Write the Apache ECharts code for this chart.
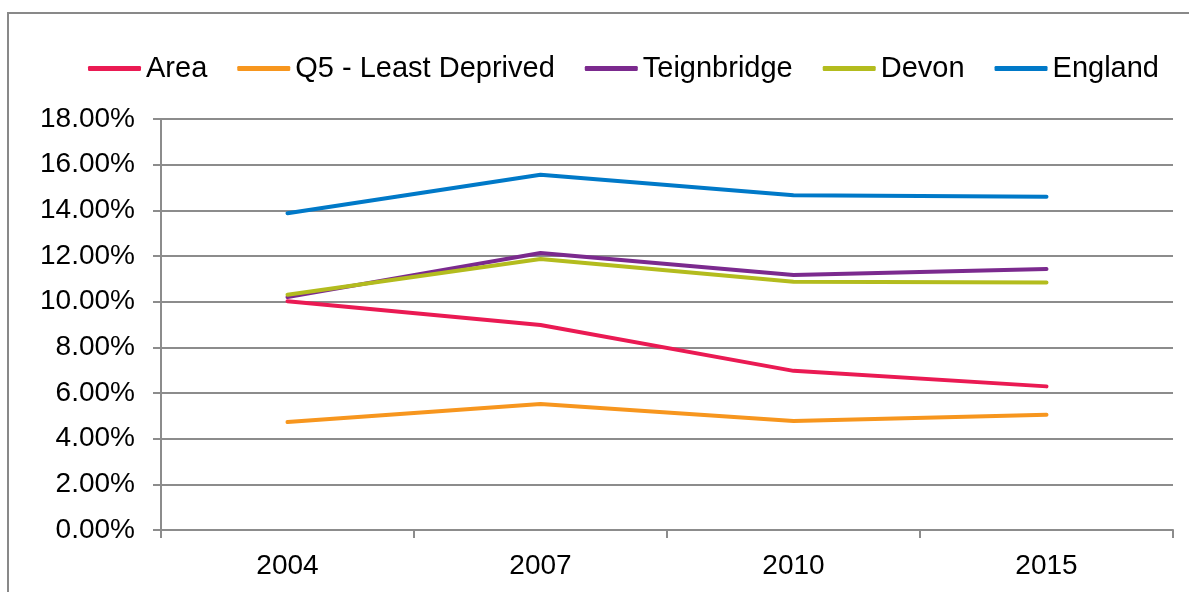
<!DOCTYPE html>
<html>
<head>
<meta charset="utf-8">
<script src="https://cdn.jsdelivr.net/npm/echarts@6/dist/echarts.min.js"></script>
<style>
  html, body { margin: 0; padding: 0; background: #fff; }
  #chart { width: 1189px; height: 592px; }
</style>
</head>
<body>
<div id="chart"></div>
<script>
const years = ['2004', '2007', '2010', '2015'];
const area = [10.02, 8.98, 6.97, 6.29];
const q5LeastDeprived = [4.73, 5.52, 4.77, 5.05];
const teignbridge = [10.2, 12.13, 11.17, 11.43];
const devon = [10.3, 11.87, 10.87, 10.84];
const england = [13.87, 15.56, 14.66, 14.59];

const colors = ['#EA1A53', '#F7961E', '#7B2A8E', '#B3BC1E', '#0079C8'];
const gridColor = '#8C8C8C';

const myChart = echarts.init(document.getElementById('chart'));

function lineSeries(name, data) {
  return {
    name: name,
    type: 'line',
    data: data,
    symbol: 'none',
    lineStyle: { width: 4, cap: 'round' },
    emphasis: { disabled: true }
  };
}

const option = {
  color: colors,
  animation: false,
  textStyle: { fontFamily: 'Liberation Sans, Arial, sans-serif' },
  graphic: [
    {
      type: 'rect',
      shape: { x: 8, y: 13, width: 1300, height: 700 },
      style: { fill: 'none', stroke: '#898989', lineWidth: 2 },
      silent: true
    }
  ],
  legend: {
    top: 49,
    left: 83,
    itemWidth: 53,
    itemHeight: 5,
    itemGap: 30,
    icon: 'roundRect',
    textStyle: { fontSize: 29, color: '#000' },
    data: ['Area', 'Q5 - Least Deprived', 'Teignbridge', 'Devon', 'England']
  },
  grid: {
    left: 161,
    right: 16,
    top: 119,
    bottom: 62,
    containLabel: false
  },
  xAxis: {
    type: 'category',
    data: years,
    boundaryGap: true,
    axisLine: { lineStyle: { color: gridColor, width: 2 } },
    axisTick: { show: true, length: 8, lineStyle: { color: gridColor, width: 2 } },
    axisLabel: { fontSize: 28, color: '#000', margin: 22 }
  },
  yAxis: {
    type: 'value',
    min: 0,
    max: 18,
    interval: 2,
    axisLine: { show: true, lineStyle: { color: gridColor, width: 2 } },
    axisTick: { show: true, length: 8, lineStyle: { color: gridColor, width: 2 } },
    splitLine: { lineStyle: { color: gridColor, width: 2 } },
    axisLabel: {
      fontSize: 28,
      color: '#000',
      margin: 26,
      formatter: function (v) { return v.toFixed(2) + '%'; }
    }
  },
  series: [
    lineSeries('Area', area),
    lineSeries('Q5 - Least Deprived', q5LeastDeprived),
    lineSeries('Teignbridge', teignbridge),
    lineSeries('Devon', devon),
    lineSeries('England', england)
  ]
};

myChart.setOption(option);
</script>
</body>
</html>
